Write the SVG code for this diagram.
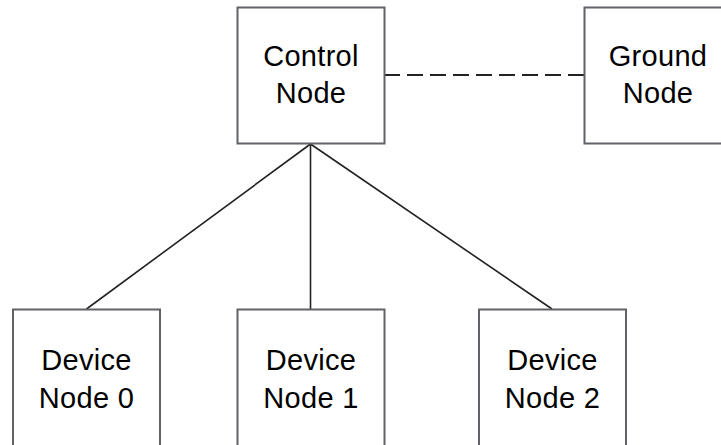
<svg xmlns="http://www.w3.org/2000/svg" width="721" height="445" viewBox="0 0 721 445">
<style>
.box{fill:#fff;stroke:#5f6368;stroke-width:2}
.lbl{font-family:"Liberation Sans",Arial,sans-serif;font-size:29px;fill:#000;text-anchor:middle;letter-spacing:0.3px}
.edge{stroke:#222;stroke-width:1.6;fill:none}
.dash{stroke-dasharray:16 7;stroke-width:2.2}
</style>
<rect width="721" height="445" fill="#fff"/>
<g id="connectors">
<line class="edge" x1="310.5" y1="144" x2="86.5" y2="309"/>
<line class="edge" x1="310.5" y1="144" x2="310.5" y2="309"/>
<line class="edge" x1="310.5" y1="144" x2="552" y2="309"/>
<line class="edge dash" x1="384" y1="75" x2="584" y2="75"/>
</g>
<g id="control">
<rect class="box" x="237.5" y="7.5" width="147" height="136"/>
<text class="lbl" x="311" y="66">Control</text>
<text class="lbl" x="311" y="103">Node</text>
</g>
<g id="ground">
<rect class="box" x="584.5" y="7.5" width="147" height="136"/>
<text class="lbl" x="658" y="66">Ground</text>
<text class="lbl" x="658" y="103">Node</text>
</g>
<g id="device0">
<rect class="box" x="13" y="309.5" width="147" height="145"/>
<text class="lbl" x="86.5" y="370">Device</text>
<text class="lbl" x="86.5" y="408">Node 0</text>
</g>
<g id="device1">
<rect class="box" x="237.5" y="309.5" width="147" height="145"/>
<text class="lbl" x="311" y="370">Device</text>
<text class="lbl" x="311" y="408">Node 1</text>
</g>
<g id="device2">
<rect class="box" x="479" y="309.5" width="147" height="145"/>
<text class="lbl" x="552.5" y="370">Device</text>
<text class="lbl" x="552.5" y="408">Node 2</text>
</g>
</svg>
